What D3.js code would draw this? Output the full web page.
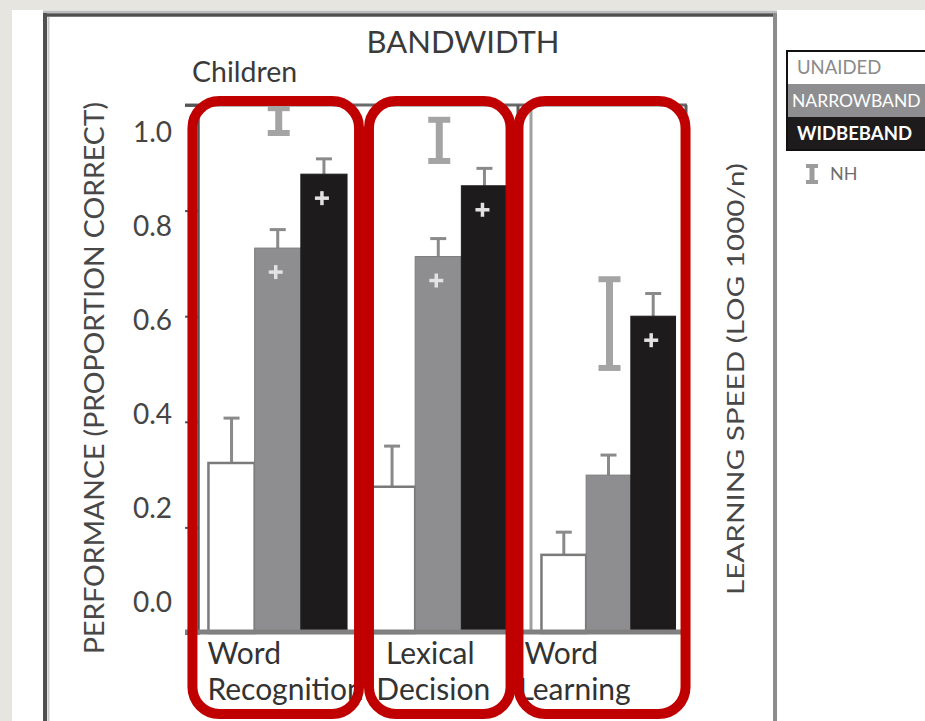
<!DOCTYPE html>
<html>
<head>
<meta charset="utf-8">
<script src="https://cdn.jsdelivr.net/npm/d3@7"></script>
<style>
  html, body { margin: 0; padding: 0; background: #fff; }
  svg { display: block; font-family: Lato, "Open Sans", sans-serif; }
</style>
</head>
<body>
<svg id="chart" width="925" height="721"></svg>
<script>
// ---- data ----
const tasks = ["Word Recognition", "Lexical Decision", "Word Learning"];
const taskLines = [["Word", "Recognition"], ["Lexical", "Decision"], ["Word", "Learning"]];
const series = ["UNAIDED", "NARROWBAND", "WIDBEBAND"];
const unaided = [0.322, 0.277, 0.148];
const narrowband = [0.729, 0.713, 0.299];
const wideband = [0.869, 0.847, 0.600];
const unaidedErr = [0.085, 0.077, 0.043];
const narrowbandErr = [0.035, 0.034, 0.038];
const widebandErr = [0.029, 0.033, 0.043];
const nhLow = [0.947, 0.894, 0.502];
const nhHigh = [0.994, 0.972, 0.670];
const sigNarrow = [true, true, false];
const sigWide = [true, true, true];
const yTickValues = [0, 0.2, 0.4, 0.6, 0.8, 1.0];
const performanceTasks = tasks.slice(0, 2);   // proportion-correct panel
const speedTasks = tasks.slice(2);            // learning-speed panel

// ---- styling ----
const fills = { UNAIDED: "#ffffff", NARROWBAND: "#8e8e90", WIDBEBAND: "#1e1b1d" };
const legendText = { UNAIDED: "#8a8a8a", NARROWBAND: "#ffffff", WIDBEBAND: "#ffffff" };
const red = "#c00000";
const textCol = "#3a3a3a";

const svg = d3.select("#chart");

// ---- slide background and panel ----
svg.append("rect").attr("x", 0).attr("y", 0).attr("width", 925).attr("height", 721).attr("fill", "#ffffff");
svg.append("rect").attr("x", 0).attr("y", 0).attr("width", 925).attr("height", 10).attr("fill", "#e7e5e0");
svg.append("rect").attr("x", 0).attr("y", 0).attr("width", 12).attr("height", 721).attr("fill", "#e7e5e0");
svg.append("line").attr("x1", 43).attr("x2", 777).attr("y1", 11.8).attr("y2", 11.8)
  .attr("stroke", "#bdbdbd").attr("stroke-width", 2.5);
svg.append("line").attr("x1", 43).attr("x2", 777).attr("y1", 15).attr("y2", 15)
  .attr("stroke", "#505050").attr("stroke-width", 3.5);
svg.append("line").attr("x1", 45).attr("x2", 45).attr("y1", 13).attr("y2", 721)
  .attr("stroke", "#505050").attr("stroke-width", 4);
svg.append("line").attr("x1", 48.5).attr("x2", 48.5).attr("y1", 17).attr("y2", 721)
  .attr("stroke", "#c8c8c8").attr("stroke-width", 2);
svg.append("line").attr("x1", 775).attr("x2", 775).attr("y1", 13).attr("y2", 721)
  .attr("stroke", "#8c8c8c").attr("stroke-width", 4);

// ---- scales ----
const y = d3.scaleLinear().domain([0, 1]).range([633, 105]);
const yLabel = d3.scaleLinear().domain([0, 1]).range([603, 133]);
const xA = d3.scaleBand().domain(performanceTasks).range([198, 518]).paddingInner(0.1366).paddingOuter(0.065);
const xB = d3.scaleBand().domain(speedTasks).range([531, 686]).paddingInner(0).paddingOuter(0.078);
const gx = t => performanceTasks.includes(t) ? xA(t) : xB(t);
const gw = t => performanceTasks.includes(t) ? xA.bandwidth() : xB.bandwidth();
const inner = t => d3.scaleBand().domain(series).range([0, gw(t)]);

// ---- titles ----
svg.append("text").attr("x", 463).attr("y", 53).attr("text-anchor", "middle")
  .attr("font-size", 31).attr("fill", textCol).text("BANDWIDTH");
svg.append("text").attr("x", 192).attr("y", 82)
  .attr("font-size", 28.5).attr("fill", textCol).text("Children");

// ---- frame ----
svg.append("line").attr("x1", 185).attr("x2", 687).attr("y1", y(1)).attr("y2", y(1))
  .attr("stroke", "#6a6a6a").attr("stroke-width", 3);
svg.append("line").attr("x1", 518).attr("x2", 518).attr("y1", y(1)).attr("y2", y(0))
  .attr("stroke", "#5a5a5a").attr("stroke-width", 3);
svg.append("line").attr("x1", 531).attr("x2", 531).attr("y1", y(1)).attr("y2", y(0))
  .attr("stroke", "#a0a0a0").attr("stroke-width", 3);
svg.append("line").attr("x1", 686).attr("x2", 686).attr("y1", y(1)).attr("y2", y(0))
  .attr("stroke", "#5a5a5a").attr("stroke-width", 3);

// left axis: tick marks on the bar scale
const axisG = svg.append("g").attr("transform", "translate(198,0)")
  .call(d3.axisLeft(y).tickValues(yTickValues).tickSize(13).tickFormat(""));
axisG.select(".domain").attr("stroke", "#555").attr("stroke-width", 2.5);
axisG.selectAll(".tick line").attr("stroke", "#555").attr("stroke-width", 2);

// tick labels
const labG = svg.append("g").attr("transform", "translate(172,0)")
  .call(d3.axisLeft(yLabel).tickValues(yTickValues).tickSize(0).tickPadding(0).tickFormat(d3.format(".1f")));
labG.select(".domain").remove();
labG.selectAll(".tick text").attr("font-size", 28).attr("fill", "#454545")
  .attr("font-family", "Lato, 'Open Sans', sans-serif");

// ---- bars ----
const rows = tasks.map((t, i) => ({
  task: t, i,
  vals: [
    { s: "UNAIDED", v: unaided[i], e: unaidedErr[i], sig: false },
    { s: "NARROWBAND", v: narrowband[i], e: narrowbandErr[i], sig: sigNarrow[i] },
    { s: "WIDBEBAND", v: wideband[i], e: widebandErr[i], sig: sigWide[i] }
  ]
}));

const groups = svg.selectAll("g.grp").data(rows).join("g").attr("class", "grp")
  .attr("transform", d => `translate(${gx(d.task)},0)`);

groups.each(function (d) {
  const g = d3.select(this);
  const x1 = inner(d.task);
  const bw = x1.bandwidth();
  // error bars (upper only)
  g.selectAll("line.err").data(d.vals).join("line").attr("class", "err")
    .attr("x1", v => x1(v.s) + bw / 2).attr("x2", v => x1(v.s) + bw / 2)
    .attr("y1", v => y(v.v)).attr("y2", v => y(v.v + v.e))
    .attr("stroke", "#8a8a8a").attr("stroke-width", 3);
  g.selectAll("line.cap").data(d.vals).join("line").attr("class", "cap")
    .attr("x1", v => x1(v.s) + bw / 2 - 8).attr("x2", v => x1(v.s) + bw / 2 + 8)
    .attr("y1", v => y(v.v + v.e)).attr("y2", v => y(v.v + v.e))
    .attr("stroke", "#8a8a8a").attr("stroke-width", 3);
  g.selectAll("rect.bar").data(d.vals).join("rect").attr("class", "bar")
    .attr("x", v => x1(v.s)).attr("width", bw)
    .attr("y", v => y(v.v)).attr("height", v => y(0) - y(v.v))
    .attr("fill", v => fills[v.s])
    .attr("stroke", v => v.s === "UNAIDED" ? "#7a7a7a" : (v.s === "NARROWBAND" ? "#7c7c7e" : "#1e1b1d"))
    .attr("stroke-width", v => v.s === "UNAIDED" ? 2.5 : 1);
  // significance markers
  const sig = d.vals.filter(v => v.sig);
  const plus = g.selectAll("g.plus").data(sig).join("g").attr("class", "plus")
    .attr("transform", v => `translate(${x1(v.s) + bw / 2 - 2},${y(v.v) + 24})`);
  plus.append("line").attr("x1", -7).attr("x2", 7).attr("stroke", "#e2e2e2").attr("stroke-width", 3.5);
  plus.append("line").attr("y1", -7).attr("y2", 7).attr("stroke", "#e2e2e2").attr("stroke-width", 3.5);
  // normal-hearing range, drawn at the narrowband position
  const cx = x1("NARROWBAND") + bw / 2 + 1;
  const nh = g.append("g").attr("fill", "#a4a4a4");
  nh.append("rect").attr("x", cx - 3.5).attr("width", 7)
    .attr("y", y(nhHigh[d.i])).attr("height", y(nhLow[d.i]) - y(nhHigh[d.i]));
  nh.append("rect").attr("x", cx - 11).attr("width", 22).attr("y", y(nhHigh[d.i]) - 3).attr("height", 6);
  nh.append("rect").attr("x", cx - 11).attr("width", 22).attr("y", y(nhLow[d.i]) - 3).attr("height", 6);
});

// baseline
svg.append("line").attr("x1", 185).attr("x2", 684).attr("y1", y(0) - 1).attr("y2", y(0) - 1)
  .attr("stroke", "#808080").attr("stroke-width", 5);

// ---- category labels ----
const labelAlign = [
  { anchor: "start", at: t => gx(t) - 1 },
  { anchor: "middle", at: t => gx(t) + gw(t) / 2 - 5 },
  { anchor: "start", at: t => gx(t) - 23 }
];
const labelOffset = [[0, 0], [-3, 0], [6, 0]];
tasks.forEach((t, i) => {
  taskLines[i].forEach((line, k) => {
    svg.append("text")
      .attr("x", labelAlign[i].at(t) + labelOffset[i][k])
      .attr("y", 664 + k * 36)
      .attr("text-anchor", labelAlign[i].anchor)
      .attr("font-size", 30).attr("fill", "#333").text(line);
  });
});

// ---- highlight boxes ----
const boxPad = [[16, 12], [0, 3], [23, 10]];
tasks.forEach((t, i) => {
  const x0 = gx(t) - boxPad[i][0];
  const x1 = gx(t) + gw(t) + boxPad[i][1];
  svg.append("rect").attr("x", x0).attr("y", y(1) - 4)
    .attr("width", x1 - x0).attr("height", 714 - (y(1) - 4))
    .attr("rx", 27).attr("ry", 27)
    .attr("fill", "none").attr("stroke", red).attr("stroke-width", 10);
});

// ---- axis titles ----
svg.append("text").attr("transform", "translate(95,378) rotate(-90)")
  .attr("text-anchor", "middle").attr("dy", "0.36em")
  .attr("font-size", 26).attr("textLength", 552).attr("lengthAdjust", "spacingAndGlyphs")
  .attr("fill", "#484848").text("PERFORMANCE (PROPORTION CORRECT)");
svg.append("text").attr("transform", "translate(735,379) rotate(-90)")
  .attr("text-anchor", "middle").attr("dy", "0.36em")
  .attr("font-size", 24).attr("textLength", 432).attr("lengthAdjust", "spacingAndGlyphs")
  .attr("fill", "#484848").text("LEARNING SPEED (LOG 1000/n)");

// ---- legend ----
const leg = svg.append("g").attr("transform", "translate(787,51)");
const rowH = 33;
leg.selectAll("rect.row").data(series).join("rect").attr("class", "row")
  .attr("x", 0).attr("y", (d, i) => i * rowH).attr("width", 150).attr("height", rowH)
  .attr("fill", d => fills[d]);
leg.selectAll("text.row").data(series).join("text").attr("class", "row")
  .attr("x", d => d === "NARROWBAND" ? 5 : 10).attr("y", (d, i) => i * rowH + rowH / 2)
  .attr("dy", "0.36em").attr("font-size", d => d === "NARROWBAND" ? 17.5 : 18.5)
  .attr("font-weight", d => d === "WIDBEBAND" ? 700 : 400)
  .attr("fill", d => legendText[d]).text(d => d);
leg.append("rect").attr("x", 0).attr("y", 0).attr("width", 150).attr("height", rowH * 3)
  .attr("fill", "none").attr("stroke", "#111").attr("stroke-width", 2);

const nhKey = svg.append("g").attr("transform", "translate(812,174)").attr("fill", "#9c9c9c");
nhKey.append("rect").attr("x", -2.5).attr("width", 5).attr("y", -9).attr("height", 18);
nhKey.append("rect").attr("x", -6).attr("width", 12).attr("y", -10).attr("height", 4);
nhKey.append("rect").attr("x", -6).attr("width", 12).attr("y", 6).attr("height", 4);
svg.append("text").attr("x", 830).attr("y", 174).attr("dy", "0.36em")
  .attr("font-size", 18).attr("fill", "#6e6e6e").text("NH");
</script>
</body>
</html>
